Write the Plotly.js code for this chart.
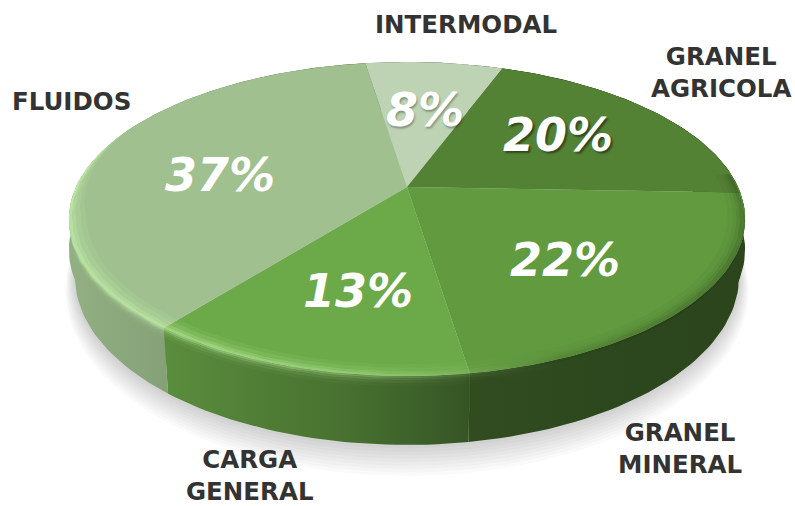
<!DOCTYPE html>
<html><head><meta charset="utf-8">
<script src="https://cdn.plot.ly/plotly-3.0.1.min.js"></script>
<style>html,body{margin:0;padding:0;background:#fff}#c{width:795px;height:506px}</style>
</head><body><div id="c"></div>
<script>
// Data (clockwise, starting at INTERMODAL)
const categories = ['INTERMODAL','GRANEL<br>AGRICOLA','GRANEL<br>MINERAL','CARGA<br>GENERAL','FLUIDOS'];
const shares = [8,20,22,13,37];
// Styling
const faceColors = [[189,211,180],[84,130,53],[97,154,63],[108,169,73],[160,193,143]];
const startAngle = -8.7;
const labelXY = [[466,24],[721,72],[680,448],[250,475],[71,101]];
const pctXY = [[425,110],[558,135],[565,260],[358,291],[220,175]];
const pctShadow = ['1px 2px 2px rgba(0,0,0,0.3)','2px 2px 2px rgba(0,0,0,0.45)','none','none','none'];
// Projection of a tilted disc on the page (pixel axes)
const topDisc = {cx:407, cy:187, A:331, B:150.5, k:0.204};
const midDisc = {cx:407, cy:217, A:331, B:154.3, k:0.204};
const botDisc = {cx:407, cy:242.7, A:325, B:161, k:0.204};
function proj(p,t,r){
  const a=t*Math.PI/180, u=r*Math.sin(a), v=r*Math.cos(a), w=1+p.k*v;
  return [p.cx+p.A*u/w, p.cy-p.B*v/w];
}
// s<0 : inside the top face, s>=0 : down the wall
function ring(t,s){
  if(s<=0) return proj(topDisc,t,1+s);
  const a=proj(topDisc,t,1), b=proj(botDisc,t,1);
  return [a[0]+(b[0]-a[0])*s, a[1]+(b[1]-a[1])*s];
}
function arc(t0,t1,fn){
  const n=Math.max(2,Math.ceil(Math.abs(t1-t0)/1.5)), out=[];
  for(let i=0;i<=n;i++) out.push(fn(t0+(t1-t0)*i/n));
  return out;
}
function poly(pts,extra){
  return Object.assign({type:'scatter',mode:'lines',x:pts.map(p=>p[0]),y:pts.map(p=>p[1]),
    fill:'toself',line:{width:0,color:'rgba(0,0,0,0)'},hoverinfo:'skip',showlegend:false},extra);
}
const X0=60,X1=760;
function stopsOver(list,f){return list.map(x=>[(x-X0)/(X1-X0),f(x)]);}
function lerpTable(tb,x){
  for(let i=0;i<tb.length-1;i++) if(x<=tb[i+1][0]){
    const q=(x-tb[i][0])/(tb[i+1][0]-tb[i][0]); return tb[i][1]+(tb[i+1][1]-tb[i][1])*Math.max(q,0);
  }
  return tb[tb.length-1][1];
}
const wallShade=[[60,.92],[170,.83],[350,.66],[468,.5],[600,.46],[760,.44]];
const hiAlpha=[[60,1],[200,1],[350,.75],[470,.25],[560,0],[760,0]];
const darkAlpha=[[60,0],[470,0],[600,.7],[760,1]];
const xs=[60,100,170,260,350,468,560,650,760];
const traces=[];
// Ground shadow
for(let i=9;i>=1;i--){
  const e=i*1.9;
  const p={cx:botDisc.cx,cy:botDisc.cy+e*0.55,A:botDisc.A+e*0.55,B:botDisc.B+e,k:botDisc.k};
  traces.push(poly(arc(0,360,t=>proj(p,t,1)),{fillcolor:'rgba(60,60,60,0.022)'}));
}
// Slice angles
const total=shares.reduce((a,b)=>a+b,0);
const ranges=[];let acc=startAngle;
shares.forEach(v=>{const d=v/total*360;ranges.push([acc,acc+d]);acc+=d;});
// Walls (two overlapping pieces so the side bulges slightly)
ranges.forEach((r,i)=>{
  const c=faceColors[i];
  const grad={type:'horizontal',start:X0,stop:X1,
    colorscale:stopsOver(xs,x=>{const s=lerpTable(wallShade,x);return `rgb(${c.map(v=>Math.round(v*s)).join(',')})`;})};
  const up=arc(r[0],r[1],t=>ring(t,0));
  traces.push(poly(up.concat(arc(r[1],r[0],t=>ring(t,1))),{fillgradient:grad}));
  traces.push(poly(up.concat(arc(r[1],r[0],t=>proj(midDisc,t,1))),{fillgradient:grad}));
});
// Top faces
ranges.forEach((r,i)=>{
  const pts=[proj(topDisc,0,0)].concat(arc(r[0],r[1],t=>proj(topDisc,t,1)));
  traces.push(poly(pts,{fillcolor:`rgb(${faceColors[i].join(',')})`}));
});
// Rim: light bevel on the left and front, dark bevel on the right
const hiBands=[[-.05,-.035,.08],[-.035,-.02,.18],[-.02,-.01,.34],[-.01,0,.5],[0,.03,.46],[.03,.06,.26],[.06,.1,.12],[.1,.15,.04]];
const hiT0=105,hiT1=292;
const taper=t=>Math.min(1,(t-hiT0)/30,(hiT1-t)/35);
hiBands.forEach(b=>{
  const pts=arc(hiT0,hiT1,t=>ring(t,b[0]*taper(t))).concat(arc(hiT1,hiT0,t=>ring(t,b[1]*taper(t))));
  traces.push(poly(pts,{fillgradient:{type:'horizontal',start:X0,stop:X1,
    colorscale:stopsOver(xs,x=>`rgba(205,255,175,${(b[2]*lerpTable(hiAlpha,x)).toFixed(3)})`)}}));
});
const darkBands=[[-.05,-.035,.05],[-.035,-.025,.1],[-.025,-.015,.18],[-.015,-.005,.3],[-.005,.04,.35]];
darkBands.forEach(b=>{
  const pts=arc(85,190,t=>ring(t,b[0])).concat(arc(190,85,t=>ring(t,b[1])));
  traces.push(poly(pts,{fillgradient:{type:'horizontal',start:X0,stop:X1,
    colorscale:stopsOver(xs,x=>`rgba(30,50,15,${(b[2]*lerpTable(darkAlpha,x)).toFixed(3)})`)}}));
});
// Text
const anns=[];
categories.forEach((c,i)=>anns.push({x:labelXY[i][0],y:labelXY[i][1],xref:'x',yref:'y',text:'<b>'+c+'</b>',showarrow:false,
  font:{family:'"DejaVu Sans",sans-serif',size:24.5,color:'#333333'}}));
shares.forEach((v,i)=>anns.push({x:pctXY[i][0],y:pctXY[i][1],xref:'x',yref:'y',text:'<b><i>'+v+'%</i></b>',showarrow:false,
  font:{family:'"DejaVu Sans",sans-serif',size:46,color:'#ffffff',shadow:pctShadow[i]}}));
Plotly.newPlot('c',traces,{
  width:795,height:506,margin:{l:0,r:0,t:0,b:0},paper_bgcolor:'#fff',plot_bgcolor:'#fff',showlegend:false,
  xaxis:{range:[0,795],visible:false,fixedrange:true},
  yaxis:{range:[506,0],visible:false,fixedrange:true},
  annotations:anns
},{displayModeBar:false,staticPlot:true});
</script></body></html>
